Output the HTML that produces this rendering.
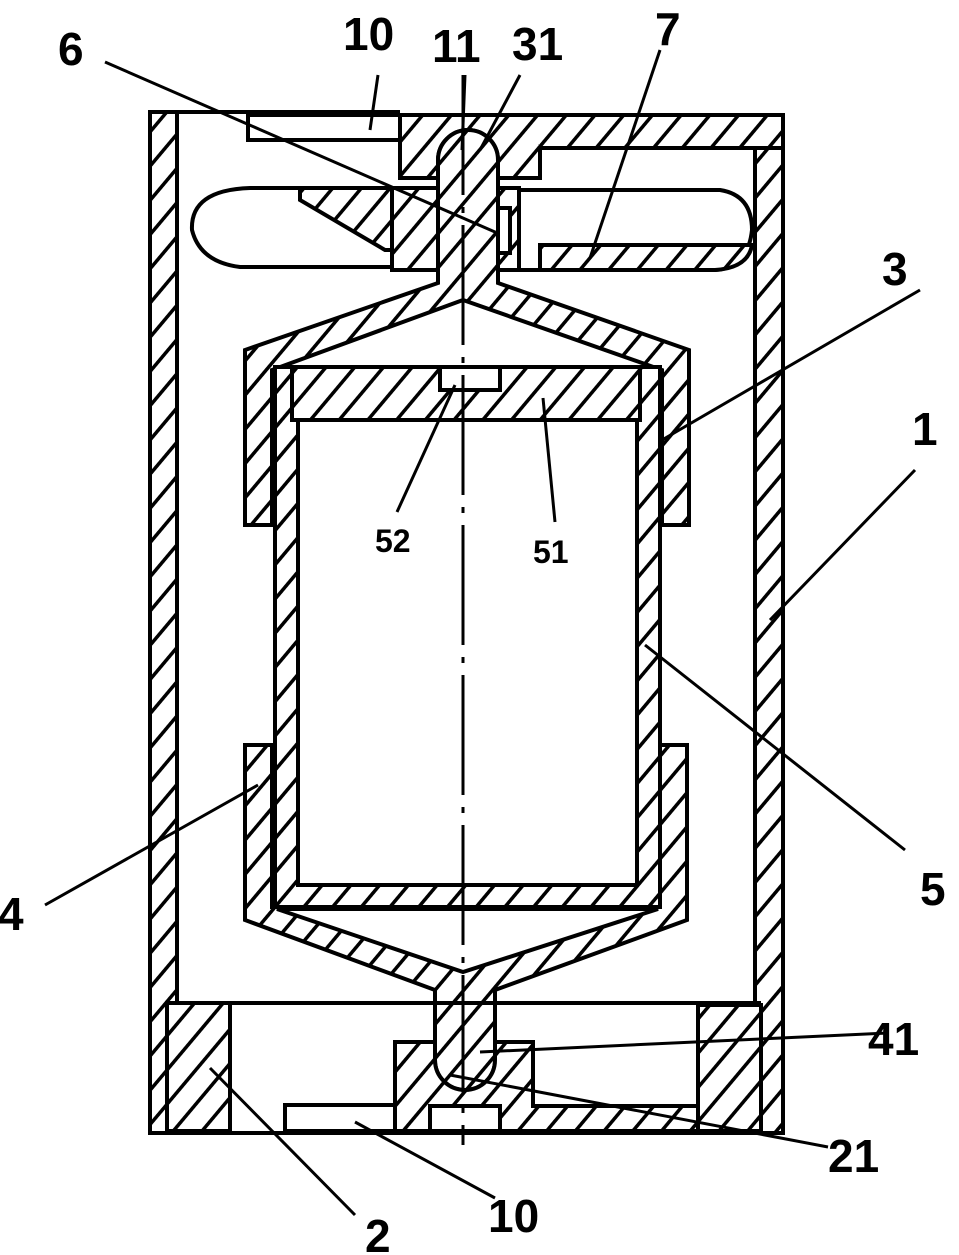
<!DOCTYPE html>
<html><head><meta charset="utf-8"><style>
html,body{margin:0;padding:0;background:#fff;}
svg{display:block;}
text{font-family:"Liberation Sans",sans-serif;font-weight:bold;fill:#000;}
</style></head><body>
<svg width="959" height="1255" viewBox="0 0 959 1255" xmlns="http://www.w3.org/2000/svg">
<defs>
<pattern id="h" patternUnits="userSpaceOnUse" width="22" height="22" patternTransform="rotate(40)">
<rect width="22" height="22" fill="#fff"/>
<line x1="0" y1="0" x2="0" y2="22" stroke="#000" stroke-width="7"/>
</pattern>
</defs>
<g stroke="#000" stroke-width="4" stroke-linejoin="miter" fill="url(#h)">
<rect x="150" y="112" width="27" height="1021"/>
<rect x="755" y="140" width="28" height="993"/>
<line x1="150" y1="112" x2="400" y2="112"/>
<line x1="150" y1="1133" x2="783" y2="1133"/>
<rect x="248" y="115" width="152" height="25" fill="#fff"/>
<path d="M400 115 L783 115 L783 148 L540 148 L540 178 L498 178 L498 160 A30 30 0 0 0 438 160 L438 178 L400 178 Z"/>
<path d="M250 188 L392 188 L392 267 L240 267 Q200 262 192 230 Q190 190 250 188 Z" fill="#fff"/>
<path d="M300 188 L392 188 L392 267 L392 267 L392 250 L385 250 L300 200 Z"/>
<path d="M519 190 L720 190 Q752 195 752 230 Q748 268 715 270 L519 270 Z" fill="#fff"/>
<path d="M540 245 L752 245 Q748 268 715 270 L540 270 Z"/>
<rect x="392" y="188" width="127" height="82"/>
<rect x="480" y="208" width="30" height="45" fill="#fff"/>
<path d="M438 283 L438 160 A30 30 0 0 1 498 160 L498 283 L689 350 L689 525 L662 525 L662 370 L463 300 L272 370 L272 525 L245 525 L245 350 Z"/>
<path d="M275 367 L660 367 L660 907 L275 907 Z"/>
<rect x="298" y="420" width="339" height="465" fill="#fff"/>
<rect x="292" y="367" width="348" height="53"/>
<rect x="440" y="367" width="60" height="23" fill="#fff"/>
<path d="M245 745 L272 745 L272 907 L660 907 L660 745 L687 745 L687 920 L495 990 L495 1060 A30 30 0 0 1 435 1060 L435 990 L245 920 Z"/>
<polygon points="277,909 658,909 463,972" fill="#fff"/>
<line x1="167" y1="1003" x2="761" y2="1003"/>
<rect x="167" y="1003" width="63" height="128"/>
<rect x="698" y="1005" width="63" height="126"/>
<path d="M395 1042 L435 1042 L435 1060 A30 30 0 0 0 495 1060 L495 1042 L533 1042 L533 1106 L698 1106 L698 1131 L395 1131 Z"/>
<rect x="285" y="1105" width="110" height="26" fill="#fff"/>
<rect x="430" y="1106" width="70" height="25" fill="#fff"/>
</g>
<line x1="463" y1="75" x2="463" y2="1145" stroke="#000" stroke-width="3" stroke-dasharray="120 12 6 12"/>
<g stroke="#000" stroke-width="3">
<line x1="105" y1="62" x2="495" y2="232"/>
<line x1="378" y1="75" x2="370" y2="130"/>
<line x1="465" y1="75" x2="462" y2="150"/>
<line x1="520" y1="75" x2="480" y2="150"/>
<line x1="660" y1="50" x2="590" y2="258"/>
<line x1="920" y1="290" x2="662" y2="440"/>
<line x1="915" y1="470" x2="770" y2="620"/>
<line x1="905" y1="850" x2="645" y2="645"/>
<line x1="45" y1="905" x2="258" y2="785"/>
<line x1="888" y1="1033" x2="480" y2="1052"/>
<line x1="828" y1="1147" x2="450" y2="1075"/>
<line x1="495" y1="1198" x2="355" y2="1122"/>
<line x1="355" y1="1215" x2="210" y2="1068"/>
<line x1="397" y1="512" x2="455" y2="385"/>
<line x1="555" y1="522" x2="543" y2="398"/>
</g>
<g font-size="46">
<text x="58" y="65">6</text>
<text x="343" y="50">10</text>
<text x="432" y="62">11</text>
<text x="512" y="60">31</text>
<text x="655" y="45">7</text>
<text x="882" y="285">3</text>
<text x="912" y="445">1</text>
<text x="920" y="905">5</text>
<text x="-2" y="930">4</text>
<text x="868" y="1055">41</text>
<text x="828" y="1172">21</text>
<text x="488" y="1232">10</text>
<text x="365" y="1252">2</text>
</g>
<g font-size="32">
<text x="375" y="552">52</text>
<text x="533" y="563">51</text>
</g>
</svg>
</body></html>
